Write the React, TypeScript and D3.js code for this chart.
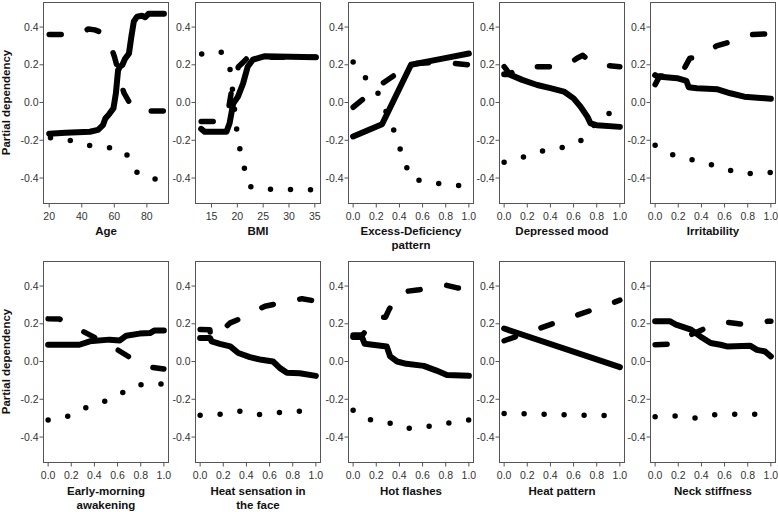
import React from 'react';
import * as d3 from 'd3';

type Pt = [number, number];

// panel titles (line breaks as in the figure)
const labels = [
  'Age', 'BMI', 'Excess-Deficiency\npattern', 'Depressed mood', 'Irritability',
  'Early-morning\nawakening', 'Heat sensation in\nthe face', 'Hot flashes', 'Heat pattern', 'Neck stiffness',
];

const yTicks = [-0.4, -0.2, 0, 0.2, 0.4];
const unitTicks = [0, 0.2, 0.4, 0.6, 0.8, 1];
const ageTicks = [20, 40, 60, 80];
const bmiTicks = [15, 20, 25, 30, 35];

// Age
const ageSolid: Pt[] = [[20, -0.165], [30, -0.16], [45, -0.155], [50, -0.145], [53, -0.12], [54.5, -0.085], [57, -0.06], [59.5, -0.03], [61, 0.05], [62.3, 0.17], [63.5, 0.19], [65, 0.2], [66.5, 0.23], [69, 0.26], [70.5, 0.35], [72, 0.43], [74, 0.455], [77, 0.46], [79, 0.452], [81, 0.47], [90.5, 0.47]];
const ageDashed: Pt[] = [[20, 0.36], [33, 0.36], [40, 0.37], [44, 0.39], [48, 0.385], [51, 0.375], [54, 0.36], [57, 0.32], [60, 0.245], [62.5, 0.165], [64, 0.1], [66, 0.05], [68, 0.02], [71, -0.025], [74, -0.04], [78, -0.045], [90.5, -0.045]];
const ageDotted: Pt[] = [[20.8, -0.186], [32.7, -0.2], [44.5, -0.227], [56.6, -0.239], [65.4, -0.252], [68, -0.28], [71.1, -0.335], [74, -0.37], [78.7, -0.399], [90.6, -0.41]];

// BMI
const bmiSolid: Pt[] = [[13, -0.14], [13.7, -0.155], [17.9, -0.155], [18.5, -0.11], [19.2, -0.005], [20.1, 0.03], [21.1, 0.1], [22, 0.19], [23, 0.227], [25.2, 0.245], [35.2, 0.24]];
const bmiDashed: Pt[] = [[13, -0.1], [17.2, -0.1], [18.2, -0.05], [18.8, 0.05], [19.5, 0.1], [20.2, 0.19], [21, 0.21], [22.4, 0.25], [23.5, 0.24], [35.2, 0.24]];
const bmiDotted: Pt[] = [[13.1, 0.257], [16.6, 0.271], [17.5, 0.255], [18.5, 0.195], [19, 0.084], [19.8, -0.129], [20.4, -0.235], [21.3, -0.342], [22.4, -0.444], [24, -0.458], [35.2, -0.463]];

// Excess-Deficiency pattern
const edSolid: Pt[] = [[0, -0.18], [0.25, -0.115], [0.5, 0.2], [0.75, 0.23], [1, 0.26]];
const edDashed: Pt[] = [[0, -0.025], [0.25, 0.1], [0.5, 0.205], [0.75, 0.215], [1, 0.2]];
const edDotted: Pt[] = [[0, 0.215], [0.11, 0.129], [0.22, 0.045], [0.355, -0.152], [0.41, -0.253], [0.47, -0.356], [0.5, -0.405], [0.586, -0.413], [0.76, -0.431], [1, -0.445]];

// Depressed mood
const dmSolid: Pt[] = [[0, 0.15], [0.04, 0.15], [0.08, 0.14], [0.156, 0.12], [0.286, 0.093], [0.4, 0.076], [0.516, 0.058], [0.6, 0.022], [0.66, -0.022], [0.72, -0.076], [0.747, -0.111], [0.8, -0.12], [1, -0.129]];
const dmDashed: Pt[] = [[0, 0.19], [0.05, 0.15], [0.1, 0.175], [0.2, 0.19], [0.44, 0.19], [0.55, 0.2], [0.63, 0.235], [0.68, 0.25], [0.72, 0.23], [0.8, 0.2], [1, 0.19]];
const dmDotted: Pt[] = [[0, -0.316], [0.165, -0.289], [0.33, -0.257], [0.496, -0.239], [0.66, -0.204], [0.75, -0.14], [0.87, -0.061], [1, -0.05]];

// Irritability
const irSolid: Pt[] = [[0, 0.145], [0.02, 0.138], [0.19, 0.129], [0.27, 0.115], [0.29, 0.081], [0.36, 0.076], [0.54, 0.07], [0.65, 0.049], [0.77, 0.031], [1, 0.02]];
const irDashed: Pt[] = [[0, 0.095], [0.04, 0.14], [0.15, 0.14], [0.22, 0.15], [0.26, 0.19], [0.3, 0.235], [0.36, 0.24], [0.45, 0.265], [0.53, 0.3], [0.67, 0.325], [0.75, 0.345], [0.84, 0.36], [1, 0.365]];
const irDotted: Pt[] = [[0, -0.227], [0.14, -0.275], [0.3, -0.301], [0.455, -0.324], [0.62, -0.355], [0.78, -0.378], [0.95, -0.372], [1, -0.37]];

// Early-morning awakening
const emSolid: Pt[] = [[0, 0.089], [0.27, 0.089], [0.36, 0.107], [0.53, 0.116], [0.62, 0.112], [0.675, 0.137], [0.79, 0.148], [0.88, 0.151], [0.92, 0.165], [1, 0.165]];
const emDashed: Pt[] = [[0, 0.226], [0.1, 0.225], [0.14, 0.21], [0.22, 0.19], [0.3, 0.16], [0.44, 0.116], [0.5, 0.1], [0.6, 0.062], [0.73, 0.013], [0.8, -0.01], [0.89, -0.03], [1, -0.04]];
const emDotted: Pt[] = [[0, -0.31], [0.18, -0.288], [0.33, -0.243], [0.49, -0.21], [0.63, -0.169], [0.78, -0.124], [0.95, -0.119], [1, -0.118]];

// Heat sensation in the face
const hsSolid: Pt[] = [[0, 0.125], [0.085, 0.125], [0.1, 0.107], [0.17, 0.094], [0.26, 0.08], [0.33, 0.045], [0.43, 0.023], [0.53, 0.009], [0.63, 0], [0.69, -0.035], [0.75, -0.059], [0.86, -0.062], [1, -0.076]];
const hsDashed: Pt[] = [[0, 0.17], [0.085, 0.168], [0.09, 0.125], [0.18, 0.16], [0.26, 0.205], [0.4, 0.24], [0.48, 0.27], [0.56, 0.293], [0.69, 0.31], [0.78, 0.32], [0.88, 0.333], [1, 0.32]];
const hsDotted: Pt[] = [[0, -0.284], [0.18, -0.279], [0.34, -0.263], [0.5, -0.281], [0.67, -0.27], [0.84, -0.267], [1, -0.24]];

// Hot flashes
const hfSolid: Pt[] = [[0, 0.13], [0.076, 0.13], [0.1, 0.094], [0.29, 0.08], [0.32, 0.027], [0.38, 0], [0.46, -0.012], [0.61, -0.023], [0.72, -0.048], [0.81, -0.071], [1, -0.076]];
const hfDashed: Pt[] = [[0, 0.14], [0.08, 0.14], [0.1, 0.155], [0.15, 0.2], [0.21, 0.235], [0.28, 0.235], [0.31, 0.275], [0.36, 0.33], [0.41, 0.368], [0.57, 0.38], [0.65, 0.39], [0.75, 0.4], [0.8, 0.405], [0.9, 0.39], [1, 0.39]];
const hfDotted: Pt[] = [[0, -0.258], [0.125, -0.306], [0.3, -0.323], [0.45, -0.355], [0.62, -0.347], [0.79, -0.329], [0.95, -0.315], [1, -0.31]];

// Heat pattern
const hpSolid: Pt[] = [[0, 0.175], [1, -0.03]];
const hpDashed: Pt[] = [[0, 0.11], [1, 0.325]];
const hpDotted: Pt[] = [[0, -0.275], [1, -0.288]];

// Neck stiffness
const nsSolid: Pt[] = [[0, 0.213], [0.13, 0.213], [0.18, 0.196], [0.31, 0.169], [0.39, 0.133], [0.48, 0.098], [0.565, 0.089], [0.62, 0.08], [0.82, 0.084], [0.88, 0.062], [0.95, 0.053], [1, 0.027]];
const nsDashed: Pt[] = [[0, 0.089], [0.13, 0.092], [0.2, 0.12], [0.31, 0.142], [0.44, 0.178], [0.53, 0.19], [0.62, 0.208], [0.77, 0.196], [0.9, 0.205], [0.97, 0.213], [1, 0.213]];
const nsDotted: Pt[] = [[0, -0.293], [0.18, -0.288], [0.35, -0.299], [0.52, -0.281], [0.69, -0.279], [0.86, -0.279], [1, -0.231]];

const W = 778;
const H = 512;
const LEFTS = [43.5, 195.5, 348.5, 499.5, 650.5];
const TOPS = [2.5, 261.5];
const TITLE_OFF = [31, 32.5];
const PW = 125;
const PH = 201;
const FONT = "'Liberation Sans', Arial, sans-serif";

const unitDomain: [number, number] = [-0.04, 1.04];
const f1 = (d: number) => d.toFixed(1);
const f0 = (d: number) => String(d);

const panels = [
  { xDomain: [16.5, 93.3], ticks: ageTicks, fmt: f0, solid: ageSolid, dashed: ageDashed, dotted: ageDotted },
  { xDomain: [11.9, 36.1], ticks: bmiTicks, fmt: f0, solid: bmiSolid, dashed: bmiDashed, dotted: bmiDotted },
  { xDomain: unitDomain, ticks: unitTicks, fmt: f1, solid: edSolid, dashed: edDashed, dotted: edDotted },
  { xDomain: unitDomain, ticks: unitTicks, fmt: f1, solid: dmSolid, dashed: dmDashed, dotted: dmDotted },
  { xDomain: unitDomain, ticks: unitTicks, fmt: f1, solid: irSolid, dashed: irDashed, dotted: irDotted },
  { xDomain: unitDomain, ticks: unitTicks, fmt: f1, solid: emSolid, dashed: emDashed, dotted: emDotted },
  { xDomain: unitDomain, ticks: unitTicks, fmt: f1, solid: hsSolid, dashed: hsDashed, dotted: hsDotted },
  { xDomain: unitDomain, ticks: unitTicks, fmt: f1, solid: hfSolid, dashed: hfDashed, dotted: hfDotted },
  { xDomain: unitDomain, ticks: unitTicks, fmt: f1, solid: hpSolid, dashed: hpDashed, dotted: hpDotted },
  { xDomain: unitDomain, ticks: unitTicks, fmt: f1, solid: nsSolid, dashed: nsDashed, dotted: nsDotted },
];

const Panel = ({ i }: { i: number }) => {
  const p = panels[i];
  const col = i % 5;
  const row = Math.floor(i / 5);
  const left = LEFTS[col];
  const top = TOPS[row];
  const bottom = top + PH;

  const x = d3.scaleLinear().domain(p.xDomain).range([left, left + PW]);
  const y = d3.scaleLinear().domain([-0.535, 0.53]).range([bottom, top]);
  const line = d3.line<Pt>().x(d => x(d[0])).y(d => y(d[1]));

  const lines = labels[i].split('\n');

  return (
    <g>
      {/* curves: dotted, dashed, solid */}
      <path d={line(p.dotted) || ''} fill="none" stroke="#000" strokeWidth={5.5}
        strokeLinecap="round" strokeLinejoin="round" strokeDasharray="0,20" />
      <path d={line(p.dashed) || ''} fill="none" stroke="#000" strokeWidth={5.5}
        strokeLinecap="round" strokeLinejoin="round" strokeDasharray="12,27" />
      <path d={line(p.solid) || ''} fill="none" stroke="#000" strokeWidth={6}
        strokeLinecap="round" strokeLinejoin="round" />

      <rect x={left} y={top} width={PW} height={PH} fill="none" stroke="#555" strokeWidth={1} />

      {yTicks.map(t => (
        <g key={'y' + t}>
          <line x1={left - 4} x2={left} y1={y(t)} y2={y(t)} stroke="#555" />
          <text x={left - 5} y={y(t)} dy="0.35em" textAnchor="end" fontSize={10.5} fill="#333" fontFamily={FONT}>
            {t.toFixed(1)}
          </text>
        </g>
      ))}

      {p.ticks.map(t => (
        <g key={'x' + t}>
          <line x1={x(t)} x2={x(t)} y1={bottom} y2={bottom + 4} stroke="#555" />
          <text x={x(t)} y={bottom + 16} textAnchor="middle" fontSize={10.5} fill="#333" fontFamily={FONT}>
            {p.fmt(t)}
          </text>
        </g>
      ))}

      {lines.map((s, k) => (
        <text key={k} x={left + PW / 2} y={bottom + TITLE_OFF[row] + k * 14} textAnchor="middle"
          fontSize={11.5} fontWeight="bold" fill="#111" fontFamily={FONT}>
          {s}
        </text>
      ))}

      {col === 0 && (
        <text transform={`translate(9.5,${y(0)}) rotate(-90)`} textAnchor="middle"
          fontSize={11.5} fontWeight="bold" fill="#111" fontFamily={FONT}>
          Partial dependency
        </text>
      )}
    </g>
  );
};

export default function App() {
  return (
    <svg width={W} height={H} style={{ position: 'absolute', left: 0, top: 0, background: '#fff' }}>
      <rect width={W} height={H} fill="#fff" />
      {panels.map((_, i) => <Panel key={i} i={i} />)}
    </svg>
  );
}
